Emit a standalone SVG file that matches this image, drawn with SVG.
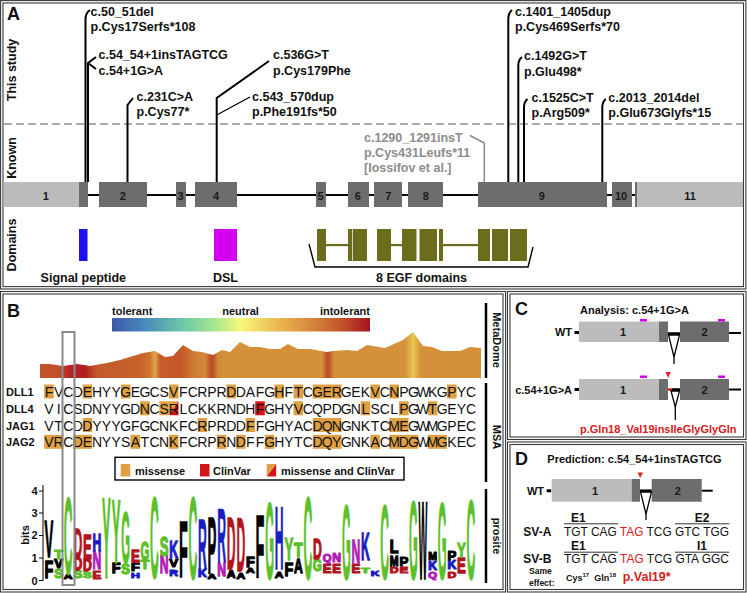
<svg xmlns="http://www.w3.org/2000/svg" width="747" height="593" viewBox="0 0 747 593">
<defs>
<style>
text{font-family:"Liberation Sans",Arial,sans-serif}
.m{font-size:12.5px;font-weight:bold;fill:#111}
.gm{font-size:12.5px;font-weight:bold;fill:#8c8c8c}
.pl{font-size:18px;font-weight:bold;fill:#111}
.side{font-size:12.5px;font-weight:bold;fill:#111;text-anchor:middle}
.frame{fill:none;stroke:#3a3a3a;stroke-width:1.1}
.ex1{fill:#bcbcbc}
.ex2{fill:#6d6d6d}
.en{font-size:11px;font-weight:bold;fill:#1a1a1a;text-anchor:middle}
.mut{fill:none;stroke:#000;stroke-width:2}
.egf{fill:#6b6d1c}
.seq{font-size:14px;fill:#111;text-anchor:middle}
.hl{fill:#dea042}
.cv{fill:#d4161c}
.lg text{font-size:10px;font-weight:bold;stroke-width:1.1;vector-effect:non-scaling-stroke;stroke-linejoin:round}
.g{fill:#5cc02a;stroke:#5cc02a}.bl{fill:#1c1cc4;stroke:#1c1cc4}.r{fill:#b3141c;stroke:#b3141c}.k{fill:#000;stroke:#000}.p{fill:#b21cb5;stroke:#b21cb5}
.lab{font-size:11px;font-weight:bold;fill:#111}
.mag{fill:#d400e8}
.red{fill:#d42020}
.nt{font-size:12px;fill:#111}
</style>
<linearGradient id="cbar" x1="0" x2="1" y1="0" y2="0">
<stop offset="0" stop-color="#3b5aa6"/><stop offset="0.12" stop-color="#4a86bc"/><stop offset="0.28" stop-color="#6ecaa8"/><stop offset="0.4" stop-color="#a8e68c"/><stop offset="0.5" stop-color="#f8f87a"/><stop offset="0.62" stop-color="#eec056"/><stop offset="0.75" stop-color="#d99040"/><stop offset="0.88" stop-color="#c4582c"/><stop offset="1" stop-color="#a4141e"/>
</linearGradient>
<linearGradient id="md" gradientUnits="userSpaceOnUse" x1="40" x2="481" y1="0" y2="0">
<stop offset="0" stop-color="#c2562a"/><stop offset="0.045" stop-color="#c0502a"/><stop offset="0.068" stop-color="#b42424"/><stop offset="0.102" stop-color="#b01e22"/><stop offset="0.129" stop-color="#c25a2a"/><stop offset="0.227" stop-color="#c6622c"/><stop offset="0.249" stop-color="#cc7430"/><stop offset="0.261" stop-color="#dca848"/><stop offset="0.272" stop-color="#c85e2a"/><stop offset="0.317" stop-color="#c2582a"/><stop offset="0.351" stop-color="#cf7c34"/><stop offset="0.374" stop-color="#d28a38"/><stop offset="0.39" stop-color="#b8482a"/><stop offset="0.404" stop-color="#d28a38"/><stop offset="0.42" stop-color="#d4913a"/><stop offset="0.639" stop-color="#d4913a"/><stop offset="0.653" stop-color="#b8482a"/><stop offset="0.667" stop-color="#d4913a"/><stop offset="0.828" stop-color="#d4913a"/><stop offset="0.846" stop-color="#ecc852"/><stop offset="0.864" stop-color="#d4913a"/><stop offset="1" stop-color="#d4913a"/>
</linearGradient>
</defs>
<rect width="747" height="593" fill="#fff"/>

<!-- Panel frames -->
<g id="frames">
<rect class="frame" x="0.6" y="0.6" width="745.3" height="288.4"/>
<rect class="frame" x="3" y="3" width="740.5" height="283.6"/>
<rect class="frame" x="0.6" y="291.5" width="505" height="300.5"/>
<rect class="frame" x="3" y="294" width="500" height="295.5"/>
<rect class="frame" x="507.5" y="291.5" width="238.5" height="148"/>
<rect class="frame" x="510" y="294" width="233.5" height="143"/>
<rect class="frame" x="507.5" y="442" width="238.5" height="150"/>
<rect class="frame" x="510" y="444.5" width="233.5" height="145"/>
</g>

<!-- ================= PANEL A ================= -->
<g id="panelA">
<text class="pl" x="7" y="20">A</text>
<text class="side" transform="translate(16 70) rotate(-90)">This study</text>
<text class="side" transform="translate(16 158) rotate(-90)">Known</text>
<text class="side" transform="translate(16 245) rotate(-90)">Domains</text>
<line x1="4" y1="124" x2="743" y2="124" stroke="#ababab" stroke-width="2" stroke-dasharray="8 4"/>
</g>

<g id="gene">
<line x1="88" y1="195" x2="636" y2="195" stroke="#000" stroke-width="2"/>
<rect class="ex1" x="3.5" y="182" width="75.5" height="25"/>
<rect class="ex2" x="79" y="182" width="9" height="25"/>
<rect class="ex2" x="99" y="182" width="48" height="25"/>
<rect class="ex2" x="176" y="182" width="10" height="25"/>
<rect class="ex2" x="195" y="182" width="42" height="25"/>
<rect class="ex2" x="316" y="182" width="10" height="25"/>
<rect class="ex2" x="348" y="182" width="21" height="25"/>
<rect class="ex2" x="374" y="182" width="28" height="25"/>
<rect class="ex2" x="408" y="182" width="35" height="25"/>
<rect class="ex2" x="478" y="182" width="129" height="25"/>
<rect class="ex2" x="612" y="182" width="20" height="25"/>
<rect class="ex2" x="635" y="182" width="2" height="25"/>
<rect class="ex1" x="637" y="182" width="106" height="25"/>
<text class="en" x="45.8" y="199.5">1</text>
<text class="en" x="122.7" y="199.5">2</text>
<text class="en" x="180.5" y="199.5">3</text>
<text class="en" x="216" y="199.5">4</text>
<text class="en" x="320.5" y="199.5">5</text>
<text class="en" x="357.7" y="199.5">6</text>
<text class="en" x="388.3" y="199.5">7</text>
<text class="en" x="425.7" y="199.5">8</text>
<text class="en" x="541.7" y="199.5">9</text>
<text class="en" x="621" y="199.5">10</text>
<text class="en" x="690" y="199.5">11</text>
</g>

<g id="variants">
<path class="mut" d="M85.5 182V19Q85.5 13 90 10"/>
<path class="mut" d="M88 182V63L96 57M88 63L96 69"/>
<path class="mut" d="M127.5 182V105L133 98"/>
<path class="mut" d="M216.7 182V98L269 61"/>
<path d="M216.7 115L250 97" fill="none" stroke="#000" stroke-width="1.3"/>
<path class="mut" d="M508.3 182V19Q508.3 13 512 10"/>
<path class="mut" d="M518.3 182V65Q518.3 60 522 57"/>
<path class="mut" d="M524 182V107Q524 102 527.5 99"/>
<path class="mut" d="M602.3 182V107Q602.3 102 605.8 99"/>
<path d="M484.3 182V143L470 135.5" fill="none" stroke="#8c8c8c" stroke-width="1.6"/>
<text class="m" x="90.5" y="16">c.50_51del</text>
<text class="m" x="90.5" y="31.3">p.Cys17Serfs*108</text>
<text class="m" x="98.5" y="58.6">c.54_54+1insTAGTCG</text>
<text class="m" x="98.5" y="75.3">c.54+1G&gt;A</text>
<text class="m" x="136.5" y="101.3">c.231C&gt;A</text>
<text class="m" x="136.5" y="116.3">p.Cys77*</text>
<text class="m" x="273" y="58.6">c.536G&gt;T</text>
<text class="m" x="273" y="75">p.Cys179Phe</text>
<text class="m" x="252" y="101">c.543_570dup</text>
<text class="m" x="252" y="116">p.Phe191fs*50</text>
<text class="m" x="515" y="16">c.1401_1405dup</text>
<text class="m" x="515" y="31.3">p.Cys469Serfs*70</text>
<text class="m" x="524" y="60.3">c.1492G&gt;T</text>
<text class="m" x="524" y="75.5">p.Glu498*</text>
<text class="m" x="531.5" y="102">c.1525C&gt;T</text>
<text class="m" x="531.5" y="117">p.Arg509*</text>
<text class="m" x="608.3" y="102">c.2013_2014del</text>
<text class="m" x="608.3" y="117">p.Glu673Glyfs*15</text>
<text class="gm" x="364" y="142.3">c.1290_1291insT</text>
<text class="gm" x="364" y="157.3">p.Cys431Leufs*11</text>
<text class="gm" x="364" y="172.3">[Iossifov et al.]</text>
</g>

<g id="domains">
<rect x="79" y="229" width="8.5" height="32" fill="#1a10f0"/>
<rect x="214" y="229" width="23" height="32" fill="#d400f0"/>
<rect class="egf" x="326" y="244" width="22" height="2.2"/>
<rect class="egf" x="391" y="244" width="11" height="2.2"/>
<rect class="egf" x="443" y="244" width="35" height="2.2"/>
<rect class="egf" x="317" y="229" width="9" height="32"/>
<rect class="egf" x="348" y="229" width="4.3" height="32"/>
<rect class="egf" x="353" y="229" width="14" height="32"/>
<rect class="egf" x="377" y="229" width="14" height="32"/>
<rect class="egf" x="402" y="229" width="14.5" height="32"/>
<rect class="egf" x="419.5" y="229" width="17.5" height="32"/>
<rect class="egf" x="439" y="229" width="4" height="32"/>
<rect class="egf" x="478" y="229" width="12" height="32"/>
<rect class="egf" x="492" y="229" width="16" height="32"/>
<rect class="egf" x="510" y="229" width="17" height="32"/>
<polyline points="309,244 315,267 528,267 533,247" fill="none" stroke="#000" stroke-width="1.4"/>
<text class="m" x="83.3" y="281.5" text-anchor="middle">Signal peptide</text>
<text class="m" x="225.5" y="281.5" text-anchor="middle">DSL</text>
<text class="m" x="376" y="281.5">8 EGF domains</text>
</g>

<!-- ================= PANEL B ================= -->
<g id="panelB">
<text class="pl" x="7" y="317">B</text>
<rect x="112" y="318" width="258" height="13.5" fill="url(#cbar)"/>
<text class="lab" x="112" y="315">tolerant</text>
<text class="lab" x="240.5" y="315" text-anchor="middle">neutral</text>
<text class="lab" x="370" y="315" text-anchor="end">intolerant</text>
<polygon fill="url(#md)" points="40,364 50,364 63,366 77,364 90,366 107,363 120,360 133,356 143,353 155,351 165,357 173,356 183,345 193,351 202,352 213,355 222,350 230,352 240,342 250,347 260,347 270,349 280,349 288,344 298,349 310,349 327,352 333,351 347,350 357,351 367,345 385,348 403,340 413,332 423,346 432,347 442,351 460,351 470,347 481,348 481,378 40,378"/>
<g stroke="#000" stroke-width="2.5">
<line x1="486" y1="303" x2="486" y2="378"/>
<line x1="486" y1="383" x2="486" y2="482"/>
<line x1="486" y1="489" x2="486" y2="583"/>
</g>
<text class="lab" transform="translate(492.5 340) rotate(90)" text-anchor="middle">MetaDome</text>
<text class="lab" transform="translate(492.5 437) rotate(90)" text-anchor="middle">MSA</text>
<text class="lab" transform="translate(492.5 536) rotate(90)" text-anchor="middle">prosite</text>
</g>

<g id="msa">
<text class="lab" x="6" y="396">DLL1</text>
<text class="lab" x="6" y="412.5">DLL4</text>
<text class="lab" x="6" y="429.5">JAG1</text>
<text class="lab" x="6" y="446">JAG2</text>
<g class="hl">
<rect x="44.2" y="384.5" width="9.6" height="14"/>
<rect x="82.6" y="384.5" width="9.6" height="14"/>
<rect x="120.9" y="384.5" width="9.6" height="14"/>
<rect x="168.9" y="384.5" width="9.6" height="14"/>
<rect x="226.4" y="384.5" width="9.6" height="14"/>
<rect x="274.4" y="384.5" width="9.6" height="14"/>
<rect x="293.5" y="384.5" width="9.6" height="14"/>
<rect x="312.7" y="384.5" width="28.8" height="14"/>
<rect x="370.3" y="384.5" width="9.6" height="14"/>
<rect x="389.4" y="384.5" width="9.6" height="14"/>
<rect x="447" y="384.5" width="9.6" height="14"/>
<rect x="140.1" y="401.3" width="9.6" height="14"/>
<rect x="159.3" y="401.3" width="9.6" height="14"/>
<rect x="293.5" y="401.3" width="9.6" height="14"/>
<rect x="360.7" y="401.3" width="9.6" height="14"/>
<rect x="399" y="401.3" width="9.6" height="14"/>
<rect x="427.8" y="401.3" width="9.6" height="14"/>
<rect x="82.6" y="418" width="9.6" height="14"/>
<rect x="197.6" y="418" width="9.6" height="14"/>
<rect x="245.6" y="418" width="9.6" height="14"/>
<rect x="312.7" y="418" width="28.8" height="14"/>
<rect x="389.4" y="418" width="19.2" height="14"/>
<rect x="44.2" y="434.8" width="19.2" height="14"/>
<rect x="73" y="434.8" width="19.2" height="14"/>
<rect x="130.5" y="434.8" width="9.6" height="14"/>
<rect x="168.9" y="434.8" width="9.6" height="14"/>
<rect x="216.8" y="434.8" width="9.6" height="14"/>
<rect x="236" y="434.8" width="9.6" height="14"/>
<rect x="264.8" y="434.8" width="9.6" height="14"/>
<rect x="312.7" y="434.8" width="28.8" height="14"/>
<rect x="370.3" y="434.8" width="9.6" height="14"/>
<rect x="389.4" y="434.8" width="28.8" height="14"/>
<rect x="427.8" y="434.8" width="19.2" height="14"/>
</g>
<polygon class="hl" points="168.9,401.3 178.5,401.3 168.9,415.3"/>
<polygon class="cv" points="178.5,401.3 178.5,415.3 168.9,415.3"/>
<rect class="cv" x="255.2" y="401.3" width="9.6" height="14"/>
<text class="seq" y="397" x="49 58.6 68.2 77.8 87.4 97 106.5 116.1 125.7 135.3 144.9 154.5 164.1 173.7 183.3 192.9 202.4 212 221.6 231.2 240.8 250.4 260 269.6 279.2 288.8 298.3 307.9 317.5 327.1 336.7 346.3 355.9 365.5 375.1 384.7 394.2 403.8 413.4 423 432.6 442.2 451.8 461.4 471">FVCDEHYYGEGCSVFCRPRDDAFGHFTCGERGEKVCNPGWKGPYC</text>
<text class="seq" y="413.8" x="49 58.6 68.2 77.8 87.4 97 106.5 116.1 125.7 135.3 144.9 154.5 164.1 173.7 183.3 192.9 202.4 212 221.6 231.2 240.8 250.4 260 269.6 279.2 288.8 298.3 307.9 317.5 327.1 336.7 346.3 355.9 365.5 375.1 384.7 394.2 403.8 413.4 423 432.6 442.2 451.8 461.4 471">VICSDNYYGDNCSRLCKKRNDHFGHYVCQPDGNLSCLPGWTGEYC</text>
<text class="seq" y="430.5" x="49 58.6 68.2 77.8 87.4 97 106.5 116.1 125.7 135.3 144.9 154.5 164.1 173.7 183.3 192.9 202.4 212 221.6 231.2 240.8 250.4 260 269.6 279.2 288.8 298.3 307.9 317.5 327.1 336.7 346.3 355.9 365.5 375.1 384.7 394.2 403.8 413.4 423 432.6 442.2 451.8 461.4 471">VTCDDYYYGFGCNKFCRPRDDFFGHYACDQNGNKTCMEGWMGPEC</text>
<text class="seq" y="447.3" x="49 58.6 68.2 77.8 87.4 97 106.5 116.1 125.7 135.3 144.9 154.5 164.1 173.7 183.3 192.9 202.4 212 221.6 231.2 240.8 250.4 260 269.6 279.2 288.8 298.3 307.9 317.5 327.1 336.7 346.3 355.9 365.5 375.1 384.7 394.2 403.8 413.4 423 432.6 442.2 451.8 461.4 471">VRCDENYYSATCNKFCRPRNDFFGHYTCDQYGNKACMDGWMGKEC</text>
</g>

<g id="legend">
<rect x="115" y="457.3" width="289" height="22.7" fill="#fff" stroke="#000" stroke-width="1.4"/>
<rect class="hl" x="120.7" y="464" width="9.5" height="12.5"/>
<text class="lab" x="135" y="474.5">missense</text>
<rect class="cv" x="200" y="464" width="9.5" height="12.5"/>
<text class="lab" x="213" y="474.5">ClinVar</text>
<polygon class="hl" points="266.7,464 276.2,464 266.7,476.5"/>
<polygon class="cv" points="276.2,464 276.2,476.5 266.7,476.5"/>
<text class="lab" x="281" y="474.5">missense and ClinVar</text>
</g>

<g id="logo">
<line x1="43" y1="485" x2="43" y2="581" stroke="#000" stroke-width="1"/>
<g stroke="#000" stroke-width="1">
<line x1="39" y1="491" x2="43" y2="491"/><line x1="39" y1="513" x2="43" y2="513"/><line x1="39" y1="535.5" x2="43" y2="535.5"/><line x1="39" y1="558" x2="43" y2="558"/><line x1="39" y1="580.5" x2="43" y2="580.5"/>
</g>
<g class="lab" text-anchor="end">
<text x="37.5" y="494.7">4</text><text x="37.5" y="516.7">3</text><text x="37.5" y="539.4">2</text><text x="37.5" y="562">1</text><text x="37.5" y="584.5">0</text>
</g>
<text class="lab" transform="translate(29 535) rotate(-90)" text-anchor="middle">bits</text>
<g class="lg">
<text class="k" transform="translate(49 577.8) scale(1 2.38)" x="-4.4" textLength="8.8" lengthAdjust="spacingAndGlyphs">F</text>
<text class="k" transform="translate(49 556.6) scale(1 5.09)" x="-4.4" textLength="8.8" lengthAdjust="spacingAndGlyphs">V</text>
<text class="g" transform="translate(58.6 577.8) scale(1 1.27)" x="-4.4" textLength="8.8" lengthAdjust="spacingAndGlyphs">S</text>
<text class="k" transform="translate(58.6 567.8) scale(1 1.27)" x="-4.4" textLength="8.8" lengthAdjust="spacingAndGlyphs">V</text>
<text class="g" transform="translate(58.6 558.9) scale(1 1.27)" x="-4.4" textLength="8.8" lengthAdjust="spacingAndGlyphs">T</text>
<text class="k" transform="translate(68.2 578.9) scale(1 0.64)" x="-4.4" textLength="8.8" lengthAdjust="spacingAndGlyphs">A</text>
<text class="g" transform="translate(68.2 574.4) scale(1 10.97)" x="-4.4" textLength="8.8" lengthAdjust="spacingAndGlyphs">C</text>
<text class="g" transform="translate(77.8 577.8) scale(1 1.11)" x="-4.4" textLength="8.8" lengthAdjust="spacingAndGlyphs">S</text>
<text class="r" transform="translate(77.8 570) scale(1 1.75)" x="-4.4" textLength="8.8" lengthAdjust="spacingAndGlyphs">D</text>
<text class="r" transform="translate(77.8 557.75) scale(1 4.29)" x="-4.4" textLength="8.8" lengthAdjust="spacingAndGlyphs">D</text>
<text class="g" transform="translate(87.4 577.8) scale(1 0.95)" x="-4.4" textLength="8.8" lengthAdjust="spacingAndGlyphs">S</text>
<text class="r" transform="translate(87.4 571.1) scale(1 1.59)" x="-4.4" textLength="8.8" lengthAdjust="spacingAndGlyphs">D</text>
<text class="r" transform="translate(87.4 558.9) scale(1 3.5)" x="-4.4" textLength="8.8" lengthAdjust="spacingAndGlyphs">E</text>
<text class="r" transform="translate(97 578.9) scale(1 1.11)" x="-4.4" textLength="8.8" lengthAdjust="spacingAndGlyphs">E</text>
<text class="p" transform="translate(97 568.9) scale(1 2.54)" x="-4.4" textLength="8.8" lengthAdjust="spacingAndGlyphs">N</text>
<text class="bl" transform="translate(97 551.1) scale(1 2.38)" x="-4.4" textLength="8.8" lengthAdjust="spacingAndGlyphs">H</text>
<text class="g" transform="translate(106.5 577.8) scale(1 11.44)" x="-4.4" textLength="8.8" lengthAdjust="spacingAndGlyphs">Y</text>
<text class="k" transform="translate(116.1 573.3) scale(1 1.43)" x="-4.4" textLength="8.8" lengthAdjust="spacingAndGlyphs">F</text>
<text class="g" transform="translate(116.1 563.3) scale(1 9.06)" x="-4.4" textLength="8.8" lengthAdjust="spacingAndGlyphs">Y</text>
<text class="g" transform="translate(125.7 574.4) scale(1 1.43)" x="-4.4" textLength="8.8" lengthAdjust="spacingAndGlyphs">S</text>
<text class="g" transform="translate(125.7 563.3) scale(1 7.31)" x="-4.4" textLength="8.8" lengthAdjust="spacingAndGlyphs">G</text>
<text class="bl" transform="translate(135.3 577.8) scale(1 0.64)" x="-4.4" textLength="8.8" lengthAdjust="spacingAndGlyphs">H</text>
<text class="k" transform="translate(135.3 571.1) scale(1 1.11)" x="-4.4" textLength="8.8" lengthAdjust="spacingAndGlyphs">F</text>
<text class="r" transform="translate(135.3 562.2) scale(1 1.59)" x="-4.4" textLength="8.8" lengthAdjust="spacingAndGlyphs">E</text>
<text class="g" transform="translate(144.9 568.9) scale(1 1.27)" x="-4.4" textLength="8.8" lengthAdjust="spacingAndGlyphs">T</text>
<text class="g" transform="translate(144.9 560) scale(1 2.54)" x="-4.4" textLength="8.8" lengthAdjust="spacingAndGlyphs">G</text>
<text class="g" transform="translate(154.5 577.8) scale(1 11.44)" x="-4.4" textLength="8.8" lengthAdjust="spacingAndGlyphs">C</text>
<text class="p" transform="translate(164.1 573.3) scale(1 2.54)" x="-4.4" textLength="8.8" lengthAdjust="spacingAndGlyphs">N</text>
<text class="g" transform="translate(164.1 555.5) scale(1 2.7)" x="-4.4" textLength="8.8" lengthAdjust="spacingAndGlyphs">S</text>
<text class="bl" transform="translate(173.7 575.55) scale(1 0.95)" x="-4.4" textLength="8.8" lengthAdjust="spacingAndGlyphs">R</text>
<text class="k" transform="translate(173.7 566.65) scale(1 1.11)" x="-4.4" textLength="8.8" lengthAdjust="spacingAndGlyphs">V</text>
<text class="bl" transform="translate(173.7 557.75) scale(1 2.38)" x="-4.4" textLength="8.8" lengthAdjust="spacingAndGlyphs">K</text>
<text class="k" transform="translate(183.3 576.7) scale(1 7.95)" x="-4.4" textLength="8.8" lengthAdjust="spacingAndGlyphs">F</text>
<text class="g" transform="translate(192.9 578.9) scale(1 11.6)" x="-4.4" textLength="8.8" lengthAdjust="spacingAndGlyphs">C</text>
<text class="bl" transform="translate(202.4 576.7) scale(1 1.11)" x="-4.4" textLength="8.8" lengthAdjust="spacingAndGlyphs">K</text>
<text class="bl" transform="translate(202.4 568.9) scale(1 6.99)" x="-4.4" textLength="8.8" lengthAdjust="spacingAndGlyphs">R</text>
<text class="k" transform="translate(212 578.9) scale(1 0.79)" x="-4.4" textLength="8.8" lengthAdjust="spacingAndGlyphs">A</text>
<text class="k" transform="translate(212 573.3) scale(1 7.95)" x="-4.4" textLength="8.8" lengthAdjust="spacingAndGlyphs">P</text>
<text class="p" transform="translate(221.6 575.55) scale(1 1.91)" x="-4.4" textLength="8.8" lengthAdjust="spacingAndGlyphs">N</text>
<text class="bl" transform="translate(221.6 562.2) scale(1 7.63)" x="-4.4" textLength="8.8" lengthAdjust="spacingAndGlyphs">R</text>
<text class="k" transform="translate(231.2 577.8) scale(1 1.11)" x="-4.4" textLength="8.8" lengthAdjust="spacingAndGlyphs">A</text>
<text class="r" transform="translate(231.2 568.9) scale(1 7.47)" x="-4.4" textLength="8.8" lengthAdjust="spacingAndGlyphs">D</text>
<text class="k" transform="translate(240.8 578.9) scale(1 0.95)" x="-4.4" textLength="8.8" lengthAdjust="spacingAndGlyphs">A</text>
<text class="r" transform="translate(240.8 571.1) scale(1 7.63)" x="-4.4" textLength="8.8" lengthAdjust="spacingAndGlyphs">D</text>
<text class="k" transform="translate(250.4 573.3) scale(1 0.79)" x="-4.4" textLength="8.8" lengthAdjust="spacingAndGlyphs">A</text>
<text class="k" transform="translate(250.4 566.65) scale(1 1.43)" x="-4.4" textLength="8.8" lengthAdjust="spacingAndGlyphs">F</text>
<text class="k" transform="translate(260 577.8) scale(1 8.9)" x="-4.4" textLength="8.8" lengthAdjust="spacingAndGlyphs">F</text>
<text class="g" transform="translate(269.6 578.9) scale(1 10.97)" x="-4.4" textLength="8.8" lengthAdjust="spacingAndGlyphs">G</text>
<text class="k" transform="translate(279.2 577.8) scale(1 0.95)" x="-4.4" textLength="8.8" lengthAdjust="spacingAndGlyphs">A</text>
<text class="bl" transform="translate(279.2 568.9) scale(1 8.9)" x="-4.4" textLength="8.8" lengthAdjust="spacingAndGlyphs">H</text>
<text class="k" transform="translate(288.8 575.55) scale(1 1.91)" x="-4.4" textLength="8.8" lengthAdjust="spacingAndGlyphs">F</text>
<text class="g" transform="translate(288.8 560) scale(1 3.18)" x="-4.4" textLength="8.8" lengthAdjust="spacingAndGlyphs">Y</text>
<text class="k" transform="translate(298.3 573.3) scale(1 2.07)" x="-4.4" textLength="8.8" lengthAdjust="spacingAndGlyphs">A</text>
<text class="g" transform="translate(298.3 556.6) scale(1 2.07)" x="-4.4" textLength="8.8" lengthAdjust="spacingAndGlyphs">T</text>
<text class="g" transform="translate(307.9 578.9) scale(1 11.6)" x="-4.4" textLength="8.8" lengthAdjust="spacingAndGlyphs">C</text>
<text class="g" transform="translate(317.5 571.1) scale(1 1.59)" x="-4.4" textLength="8.8" lengthAdjust="spacingAndGlyphs">G</text>
<text class="r" transform="translate(317.5 558.9) scale(1 2.86)" x="-4.4" textLength="8.8" lengthAdjust="spacingAndGlyphs">D</text>
<text class="r" transform="translate(327.1 573.3) scale(1 1.27)" x="-4.4" textLength="8.8" lengthAdjust="spacingAndGlyphs">E</text>
<text class="p" transform="translate(327.1 562.2) scale(1 1.11)" x="-4.4" textLength="8.8" lengthAdjust="spacingAndGlyphs">Q</text>
<text class="r" transform="translate(336.7 573.3) scale(1 1.27)" x="-4.4" textLength="8.8" lengthAdjust="spacingAndGlyphs">E</text>
<text class="p" transform="translate(336.7 562.2) scale(1 1.27)" x="-4.4" textLength="8.8" lengthAdjust="spacingAndGlyphs">N</text>
<text class="g" transform="translate(346.3 578.9) scale(1 10.65)" x="-4.4" textLength="8.8" lengthAdjust="spacingAndGlyphs">G</text>
<text class="r" transform="translate(355.9 573.3) scale(1 1.27)" x="-4.4" textLength="8.8" lengthAdjust="spacingAndGlyphs">E</text>
<text class="p" transform="translate(355.9 563.3) scale(1 3.34)" x="-4.4" textLength="8.8" lengthAdjust="spacingAndGlyphs">N</text>
<text class="g" transform="translate(365.5 573.3) scale(1 0.79)" x="-4.4" textLength="8.8" lengthAdjust="spacingAndGlyphs">T</text>
<text class="bl" transform="translate(365.5 560) scale(1 3.81)" x="-4.4" textLength="8.8" lengthAdjust="spacingAndGlyphs">K</text>
<text class="bl" transform="translate(375.1 575.55) scale(1 0.79)" x="-4.4" textLength="8.8" lengthAdjust="spacingAndGlyphs">K</text>
<text class="g" transform="translate(384.7 578.9) scale(1 10.65)" x="-4.4" textLength="8.8" lengthAdjust="spacingAndGlyphs">C</text>
<text class="r" transform="translate(394.2 573.3) scale(1 0.95)" x="-4.4" textLength="8.8" lengthAdjust="spacingAndGlyphs">D</text>
<text class="k" transform="translate(394.2 565.5) scale(1 1.43)" x="-4.4" textLength="8.8" lengthAdjust="spacingAndGlyphs">M</text>
<text class="k" transform="translate(394.2 553.3) scale(1 1.75)" x="-4.4" textLength="8.8" lengthAdjust="spacingAndGlyphs">L</text>
<text class="r" transform="translate(403.8 573.3) scale(1 0.95)" x="-4.4" textLength="8.8" lengthAdjust="spacingAndGlyphs">E</text>
<text class="k" transform="translate(403.8 565.5) scale(1 1.27)" x="-4.4" textLength="8.8" lengthAdjust="spacingAndGlyphs">P</text>
<text class="g" transform="translate(413.4 578.9) scale(1 11.13)" x="-4.4" textLength="8.8" lengthAdjust="spacingAndGlyphs">G</text>
<text class="k" transform="translate(423 578.9) scale(1 11.13)" x="-4.4" textLength="8.8" lengthAdjust="spacingAndGlyphs">W</text>
<text class="p" transform="translate(432.6 577.8) scale(1 0.95)" x="-4.4" textLength="8.8" lengthAdjust="spacingAndGlyphs">Q</text>
<text class="bl" transform="translate(432.6 570) scale(1 1.27)" x="-4.4" textLength="8.8" lengthAdjust="spacingAndGlyphs">K</text>
<text class="k" transform="translate(432.6 560) scale(1 1.11)" x="-4.4" textLength="8.8" lengthAdjust="spacingAndGlyphs">M</text>
<text class="g" transform="translate(442.2 578.9) scale(1 10.97)" x="-4.4" textLength="8.8" lengthAdjust="spacingAndGlyphs">G</text>
<text class="r" transform="translate(451.8 577.8) scale(1 0.95)" x="-4.4" textLength="8.8" lengthAdjust="spacingAndGlyphs">D</text>
<text class="bl" transform="translate(451.8 568.9) scale(1 1.27)" x="-4.4" textLength="8.8" lengthAdjust="spacingAndGlyphs">K</text>
<text class="k" transform="translate(451.8 560) scale(1 1.27)" x="-4.4" textLength="8.8" lengthAdjust="spacingAndGlyphs">P</text>
<text class="r" transform="translate(461.4 573.3) scale(1 2.22)" x="-4.4" textLength="8.8" lengthAdjust="spacingAndGlyphs">E</text>
<text class="g" transform="translate(461.4 556.6) scale(1 2.07)" x="-4.4" textLength="8.8" lengthAdjust="spacingAndGlyphs">Y</text>
<text class="g" transform="translate(471 578.9) scale(1 11.28)" x="-4.4" textLength="8.8" lengthAdjust="spacingAndGlyphs">C</text>
</g>
</g>
<rect id="colbox" x="62.5" y="332" width="12" height="253" fill="none" stroke="#8a8a8a" stroke-width="2"/>

<!-- ================= PANEL C ================= -->
<g id="panelC">
<text class="pl" x="515" y="315">C</text>
<text class="lab" x="580" y="314">Analysis: c.54+1G&gt;A</text>
<text class="lab" x="572" y="336" text-anchor="end">WT</text>
<rect x="574.5" y="331" width="4.5" height="3" fill="#000"/>
<line x1="729" y1="333" x2="741" y2="333" stroke="#000" stroke-width="2"/>
<rect class="ex1" x="579" y="321.5" width="80" height="20.5"/>
<rect class="ex2" x="659" y="321.5" width="9" height="20.5"/>
<rect class="ex2" x="680" y="321.5" width="49" height="20.5"/>
<line x1="668" y1="333.5" x2="680" y2="333.5" stroke="#000" stroke-width="2.5"/>
<polygon points="668.5,335 679.5,335 674,357" fill="#fff" stroke="#000" stroke-width="1.3"/>
<line x1="674" y1="357" x2="674" y2="364" stroke="#000" stroke-width="1.3"/>
<rect class="mag" x="640" y="319" width="7" height="2.5"/>
<rect class="mag" x="718" y="319" width="7" height="2.5"/>
<text class="en" x="623" y="336">1</text>
<text class="en" x="704.5" y="336">2</text>

<text class="lab" x="572" y="393.5" text-anchor="end">c.54+1G&gt;A</text>
<rect x="574.5" y="388" width="4.5" height="3" fill="#000"/>
<line x1="729" y1="389.5" x2="741" y2="389.5" stroke="#000" stroke-width="2"/>
<rect class="ex1" x="579" y="379" width="80" height="21"/>
<rect class="ex2" x="659" y="379" width="9" height="21"/>
<rect class="ex2" x="680" y="379" width="49" height="21"/>
<line x1="668" y1="389.5" x2="672" y2="389.5" stroke="#e02020" stroke-width="2.5"/>
<line x1="672" y1="389.5" x2="680" y2="389.5" stroke="#000" stroke-width="2.5"/>
<polygon points="671,391 679.5,391 675.3,407" fill="#fff" stroke="#000" stroke-width="1.3"/>
<line x1="675.3" y1="407" x2="675.3" y2="420" stroke="#000" stroke-width="1.3"/>
<polygon points="665.5,372 670.8,372 668.1,378" fill="#e02020"/>
<rect class="mag" x="640" y="375.5" width="7" height="2.5"/>
<rect class="mag" x="718" y="375.5" width="7" height="2.5"/>
<text class="en" x="623" y="393.5">1</text>
<text class="en" x="704.5" y="393.5">2</text>
<text class="lab red" x="580" y="433">p.Gln18_Val19insIleGlyGlyGln</text>
</g>

<!-- ================= PANEL D ================= -->
<g id="panelD">
<text class="pl" x="515" y="465">D</text>
<text class="lab" x="547.3" y="463">Prediction: c.54_54+1insTAGTCG</text>
<text class="lab" x="544" y="495" text-anchor="end">WT</text>
<rect x="546.7" y="489.3" width="4.5" height="3" fill="#000"/>
<line x1="701.7" y1="490.7" x2="712.7" y2="490.7" stroke="#000" stroke-width="2"/>
<rect class="ex1" x="551.7" y="479" width="80" height="22.7"/>
<rect class="ex2" x="631.7" y="479" width="8.3" height="22.7"/>
<rect class="ex2" x="651.7" y="479" width="50" height="22.7"/>
<line x1="640" y1="490.7" x2="651.7" y2="490.7" stroke="#000" stroke-width="2.5"/>
<polygon points="640.5,492 651.5,492 646,514" fill="#fff" stroke="#000" stroke-width="1.3"/>
<line x1="646" y1="514" x2="646" y2="520" stroke="#000" stroke-width="1.3"/>
<polygon points="637.5,472.5 643,472.5 640.2,478" fill="#e02020"/>
<text class="en" x="595" y="494.5">1</text>
<text class="en" x="677.7" y="494.5">2</text>

<text class="m" x="578.3" y="521.5" text-anchor="middle" style="font-size:12px">E1</text>
<line x1="564" y1="523.8" x2="618" y2="523.8" stroke="#333" stroke-width="1"/>
<text class="m" x="702" y="521.5" text-anchor="middle" style="font-size:12px">E2</text>
<line x1="675" y1="523.8" x2="729.3" y2="523.8" stroke="#333" stroke-width="1"/>
<text class="m" x="523.3" y="536" style="font-size:12px">SV-A</text>
<text class="nt" x="564" y="536" textLength="165" lengthAdjust="spacingAndGlyphs">TGT CAG <tspan fill="#e02020">TAG</tspan> TCG GTC TGG</text>

<text class="m" x="578.3" y="550" text-anchor="middle" style="font-size:12px">E1</text>
<line x1="564" y1="552.2" x2="618" y2="552.2" stroke="#333" stroke-width="1"/>
<text class="m" x="702" y="550" text-anchor="middle" style="font-size:12px">I1</text>
<line x1="675" y1="552.2" x2="729.3" y2="552.2" stroke="#333" stroke-width="1"/>
<text class="m" x="523.3" y="563" style="font-size:12px">SV-B</text>
<text class="nt" x="564" y="563" textLength="165" lengthAdjust="spacingAndGlyphs">TGT CAG <tspan fill="#e02020">TAG</tspan> TCG GTA GGC</text>

<text class="lab" x="529" y="574" style="font-size:8.5px">Same</text>
<text class="lab" x="529" y="586" style="font-size:8.5px">effect:</text>
<text class="lab" x="566" y="580.5" style="font-size:9px">Cys<tspan font-size="6" dy="-4">17</tspan></text>
<text class="lab" x="594.3" y="580.5" style="font-size:9px">Gln<tspan font-size="6" dy="-4">18</tspan></text>
<text class="m red" x="622.7" y="580.5">p.Val19*</text>
</g>
</svg>
